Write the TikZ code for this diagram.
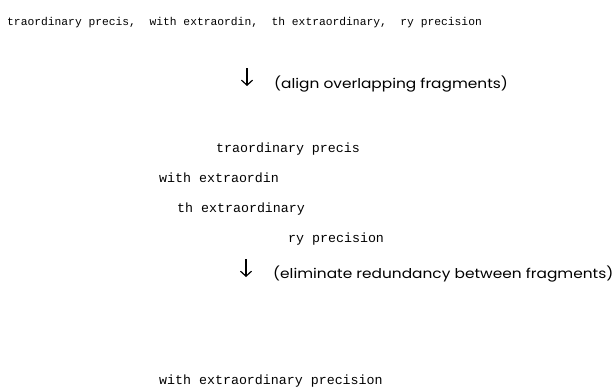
\documentclass[tikz,border=0pt]{standalone}
\usepackage{fontspec}
\setmonofont{Liberation Mono}
\newfontfamily\labfont[FakeStretch=1.14]{Poppins}
\usetikzlibrary{arrows.meta}
\tikzset{
  seq/.style={inner sep=0pt, anchor=base west, font=\ttfamily\fontsize{11.3}{13}\selectfont},
  frag/.style={inner sep=0pt, anchor=base west, font=\ttfamily\fontsize{13.3}{15}\selectfont},
  lab/.style={inner sep=0pt, anchor=base west, font=\labfont\fontsize{13.5}{16}\selectfont},
  stepline/.style={line width=1.2pt, -{Straight Barb[length=5pt,width=11pt,line width=1.2pt]}}
}
\begin{document}
\begin{tikzpicture}[x=1pt,y=-1pt]
\useasboundingbox[fill=white] (0,0) rectangle (615,391);
\node[seq] (reads) at (7,25) {traordinary precis,\ \ with extraordin,\ \ th extraordinary,\ \ ry precision};
\coordinate (a1s) at (247,68);
\coordinate (a1e) at (247,86);
\draw[stepline] (a1s) -- (a1e);
\node[lab] (l1) at (274,88) {(align overlapping fragments)};
\node[frag] (f1) at (216,152) {traordinary precis};
\node[frag] (f2) at (159,182) {with extraordin};
\node[frag] (f3) at (177,212) {th extraordinary};
\node[frag] (f4) at (288,242) {ry precision};
\coordinate (a2s) at (246,259);
\coordinate (a2e) at (246,277);
\draw[stepline] (a2s) -- (a2e);
\node[lab] (l2) at (273,278) {(eliminate redundancy between fragments)};
\node[frag] (res) at (159,384) {with extraordinary precision};
\end{tikzpicture}
\end{document}
